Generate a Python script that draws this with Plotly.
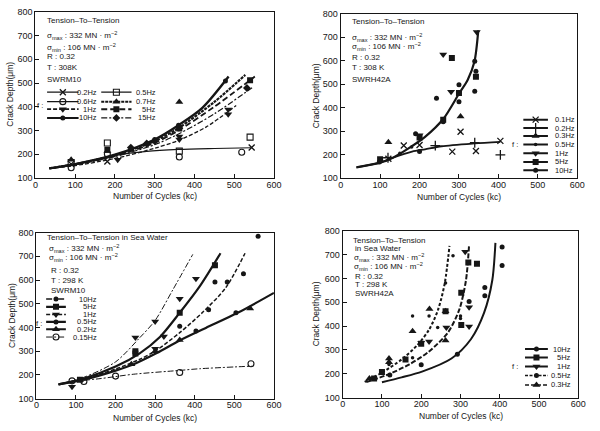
import plotly.graph_objects as go

FONT = "Arial, 'Liberation Sans', Helvetica, sans-serif"
INK = "#161616"

# ===================== DATA =====================
x_tick_vals = [0, 100, 200, 300, 400, 500, 600]
y_tick_vals = [100, 200, 300, 400, 500, 600, 700, 800]
x_title = "Number of Cycles (kc)"
y_title = "Crack Depth(μm)"

# ---- Panel 1 : SWRM10, air, 308 K ----
p1_low_x = [35, 100, 200, 280, 360, 450, 544]
p1_low_y = [140, 158, 195, 212, 220, 224, 227]
p1_f10_x = [35, 100, 200, 300, 360, 420, 486]
p1_f10_y = [140, 158, 198, 262, 322, 395, 527]
p1_f07_x = [35, 100, 200, 300, 360, 450, 528]
p1_f07_y = [140, 158, 196, 255, 310, 420, 534]
p1_f5_x = [35, 100, 200, 300, 360, 450, 552]
p1_f5_y = [140, 157, 193, 248, 300, 400, 527]
p1_f15_x = [35, 100, 200, 300, 360, 450, 545]
p1_f15_y = [140, 156, 190, 240, 285, 370, 480]
p1_f1_x = [35, 100, 200, 300, 360, 430, 505]
p1_f1_y = [140, 152, 182, 225, 258, 315, 405]

p1_m02_x = [90, 181, 544];            p1_m02_y = [158, 169, 228]
p1_m05_x = [90, 181, 362, 540];       p1_m05_y = [165, 247, 213, 272]
p1_m06_x = [90, 181, 362, 519];       p1_m06_y = [143, 201, 188, 208]
p1_m07_x = [90, 181, 362];            p1_m07_y = [176, 213, 420]
p1_m1_x = [207, 362, 362, 485, 485];  p1_m1_y = [176, 262, 275, 368, 388]
p1_m5_x = [181, 362, 540];            p1_m5_y = [219, 308, 512]
p1_m10_x = [300, 360, 478];           p1_m10_y = [262, 322, 508]
p1_m15_x = [240, 280, 300, 532];      p1_m15_y = [228, 245, 255, 479]

# ---- Panel 2 : SWRH42A, air, 308 K ----
p2_rise_x = [40, 98, 131, 172, 214, 260, 301, 322, 339, 349]
p2_rise_y = [145, 164, 185, 226, 275, 351, 462, 518, 594, 729]
p2_flat_x = [40, 98, 131, 181, 214, 256, 339, 405]
p2_flat_y = [145, 164, 185, 212, 222, 235, 247, 254]

p2_m01_x = [121, 160, 200, 283, 304, 343, 405]; p2_m01_y = [182, 238, 240, 212, 297, 215, 258]
p2_m02_x = [120, 240, 340, 405];      p2_m02_y = [186, 238, 250, 198]
p2_m03_x = [121, 304];                p2_m03_y = [252, 362]
p2_m05_x = [150, 180];                p2_m05_y = [205, 232]
p2_m1_x = [200, 260, 280, 345];       p2_m1_y = [282, 626, 468, 722]
p2_m5_x = [100, 200, 260, 282, 300, 343]; p2_m5_y = [180, 272, 348, 611, 462, 532]
p2_m10_x = [98, 190, 200, 243, 260, 300, 300, 340, 343, 340]
p2_m10_y = [168, 288, 213, 440, 340, 497, 425, 598, 555, 470]

# ---- Panel 3 : SWRM10, sea water, 298 K ----
p3_f10_x = [56, 120, 200, 260, 300, 345, 395]
p3_f10_y = [160, 190, 255, 355, 430, 560, 708]
p3_f5_x = [56, 120, 200, 260, 312, 362, 412, 465]
p3_f5_y = [160, 185, 235, 290, 360, 462, 572, 713]
p3_f1_x = [56, 120, 200, 260, 304, 362, 420, 478, 527]
p3_f1_y = [160, 182, 225, 265, 305, 378, 464, 567, 713]
p3_f05_x = [56, 120, 200, 246, 304, 362, 428, 511, 600]
p3_f05_y = [160, 180, 218, 245, 292, 345, 398, 464, 546]
p3_f015_x = [90, 164, 246, 362, 412, 544]
p3_f015_y = [172, 185, 203, 219, 226, 237]

p3_m10_x = [560, 523];                          p3_m10_y = [785, 627]
p3_m5_x = [451, 362, 250, 250, 110];            p3_m5_y = [662, 462, 300, 290, 180]
p3_m1_x = [403, 362, 300, 250, 322, 300, 90];   p3_m1_y = [605, 521, 425, 358, 362, 310, 150]
p3_m05_x = [403, 435, 504, 362, 451, 482];      p3_m05_y = [385, 475, 462, 405, 592, 592]
p3_m02_x = [540, 362, 240, 110, 300];           p3_m02_y = [480, 347, 245, 178, 300]
p3_m015_x = [542, 362, 200, 120, 90];           p3_m015_y = [247, 210, 195, 172, 175]

# ---- Panel 4 : SWRH42A, sea water, 298 K ----
p4_f03_x = [56, 100, 150, 190, 220, 243, 260, 272]
p4_f03_y = [166, 205, 260, 320, 385, 469, 580, 736]
p4_f1_x = [60, 120, 170, 218, 268, 297, 314, 322]
p4_f1_y = [165, 200, 240, 291, 373, 469, 592, 743]
p4_f10_x = [100, 150, 202, 277, 327, 360, 381, 389]
p4_f10_y = [165, 185, 209, 264, 346, 455, 592, 749]

p4_m10_x = [406, 406, 362, 362, 322, 292, 200, 120]
p4_m10_y = [732, 654, 562, 527, 503, 282, 238, 195]
p4_m5_x = [342, 320, 302, 302, 262, 200, 160, 100, 80]
p4_m5_y = [661, 667, 540, 405, 462, 326, 260, 208, 180]
p4_m1_x = [312, 322, 322, 264, 220, 200]
p4_m1_y = [712, 479, 398, 394, 335, 330]
p4_m05_x = [281, 262, 220, 242, 178, 178, 118, 300, 300]
p4_m05_y = [695, 581, 442, 394, 442, 267, 239, 442, 432]
p4_m03_x = [221, 262, 262, 178, 118, 118, 68]
p4_m03_y = [472, 462, 340, 378, 264, 248, 180]

# legend entries: label, dash, width, symbol key
p1_legend = [("0.2Hz", "solid", 1.2, "x"), ("0.5Hz", "solid", 1.2, "sq_open"),
             ("0.6Hz", "solid", 1.2, "ci_open"), ("0.7Hz", "3px,1px", 2.0, "tri_up"),
             ("1Hz", "4px,2px", 1.6, "tri_dn"), ("5Hz", "6px,3px", 2.0, "sq"),
             ("10Hz", "solid", 2.0, "dot"), ("15Hz", "6px,2px,2px,2px", 1.2, "dia")]
p2_legend = [("0.1Hz", "solid", 2.0, "x"), ("0.2Hz", "solid", 2.0, "+"),
             ("0.3Hz", "solid", 2.0, "tri_up"), ("0.5Hz", "solid", 2.0, "dot_s"),
             ("1Hz", "solid", 2.0, "tri_dn"), ("5Hz", "solid", 2.0, "sq"),
             ("10Hz", "solid", 2.0, "dot")]
p3_legend = [("10Hz", "6px,2px,2px,2px", 1.4, "dot"), ("5Hz", "solid", 2.2, "sq"),
             ("1Hz", "4px,2px", 1.5, "tri_dn"), ("0.5Hz", "solid", 2.2, "dot"),
             ("0.2Hz", "solid", 2.2, "tri_up"), ("0.15Hz", "6px,2px,2px,2px", 1.0, "ci_open")]
p4_legend = [("10Hz", "solid", 2.0, "dot"), ("5Hz", "solid", 2.0, "sq"),
             ("1Hz", "solid", 2.0, "tri_dn"), ("0.5Hz", "3px,1.5px", 1.6, "dot"),
             ("0.3Hz", "4px,2px", 1.6, "tri_up")]

p1_text = ["Tension–To–Tension", "σ<sub>max</sub> : 332 MN · m<sup>−2</sup>",
           "σ<sub>min</sub> : 106 MN · m<sup>−2</sup>", "R : 0.32", "T : 308K", "SWRM10"]
p2_text = ["Tension–To–Tension", "σ<sub>max</sub> : 332 MN · m<sup>−2</sup>",
           "σ<sub>min</sub> : 106 MN · m<sup>−2</sup>", "R : 0.32", "T : 308 K", "SWRH42A"]
p3_text = ["Tension–To–Tension in Sea Water", "σ<sub>max</sub> : 332 MN · m<sup>−2</sup>",
           "σ<sub>min</sub> : 106 MN · m<sup>−2</sup>", "R : 0.32", "T : 298 K", "SWRM10"]
p4_text = ["Tension–To–Tension", "in Sea Water", "σ<sub>max</sub> : 332 MN · m<sup>−2</sup>",
           "σ<sub>min</sub> : 106 MN · m<sup>−2</sup>", "R : 0.32", "T : 298 K", "SWRH42A"]

# ===================== STYLE / LAYOUT =====================
SYM = {
    "x": dict(symbol="x-thin", size=6, line=dict(width=1.3, color=INK)),
    "+": dict(symbol="cross-thin", size=7, line=dict(width=1.3, color=INK)),
    "sq_open": dict(symbol="square-open", size=6, line=dict(width=1.1, color=INK)),
    "ci_open": dict(symbol="circle-open", size=6, line=dict(width=1.1, color=INK)),
    "tri_up": dict(symbol="triangle-up", size=7, line=dict(width=0)),
    "tri_dn": dict(symbol="triangle-down", size=7, line=dict(width=0)),
    "sq": dict(symbol="square", size=6, line=dict(width=0)),
    "dot": dict(symbol="circle", size=5, line=dict(width=0)),
    "dot_s": dict(symbol="circle", size=3.5, line=dict(width=0)),
    "dia": dict(symbol="diamond", size=6, line=dict(width=0)),
}

panels = {
    1: dict(xd=[0.055, 0.46], yd=[0.5893, 0.9838]),
    2: dict(xd=[0.5733, 0.975], yd=[0.5893, 0.9791]),
    3: dict(xd=[0.0567, 0.46], yd=[0.065, 0.4594]),
    4: dict(xd=[0.5767, 0.9767], yd=[0.0673, 0.464]),
}

fig = go.Figure()


def ax(k):
    return ("x" if k == 1 else f"x{k}"), ("y" if k == 1 else f"y{k}")


def fit(k, x, y, dash, width):
    xa, ya = ax(k)
    fig.add_trace(go.Scatter(x=x, y=y, mode="lines", xaxis=xa, yaxis=ya,
                             line=dict(color=INK, width=width, dash=dash,
                                       shape="spline", smoothing=0.8),
                             hoverinfo="skip", showlegend=False))


def pts(k, x, y, key, name):
    xa, ya = ax(k)
    m = dict(SYM[key]); m["color"] = INK
    fig.add_trace(go.Scatter(x=x, y=y, mode="markers", xaxis=xa, yaxis=ya,
                             marker=m, name=name, showlegend=False))


# panel 1
fit(1, p1_low_x, p1_low_y, "solid", 1.2)
fit(1, p1_f10_x, p1_f10_y, "solid", 2.4)
fit(1, p1_f07_x, p1_f07_y, "3px,1px", 2.2)
fit(1, p1_f5_x, p1_f5_y, "6px,3px", 1.8)
fit(1, p1_f15_x, p1_f15_y, "6px,2px,2px,2px", 1.2)
fit(1, p1_f1_x, p1_f1_y, "4px,2px", 1.3)
pts(1, p1_m02_x, p1_m02_y, "x", "0.2Hz")
pts(1, p1_m05_x, p1_m05_y, "sq_open", "0.5Hz")
pts(1, p1_m06_x, p1_m06_y, "ci_open", "0.6Hz")
pts(1, p1_m07_x, p1_m07_y, "tri_up", "0.7Hz")
pts(1, p1_m1_x, p1_m1_y, "tri_dn", "1Hz")
pts(1, p1_m5_x, p1_m5_y, "sq", "5Hz")
pts(1, p1_m10_x, p1_m10_y, "dot", "10Hz")
pts(1, p1_m15_x, p1_m15_y, "dia", "15Hz")

# panel 2
fit(2, p2_rise_x, p2_rise_y, "solid", 2.2)
fit(2, p2_flat_x, p2_flat_y, "solid", 1.8)
pts(2, p2_m01_x, p2_m01_y, "x", "0.1Hz")
pts(2, p2_m02_x, p2_m02_y, "+", "0.2Hz")
pts(2, p2_m03_x, p2_m03_y, "tri_up", "0.3Hz")
pts(2, p2_m05_x, p2_m05_y, "dot_s", "0.5Hz")
pts(2, p2_m1_x, p2_m1_y, "tri_dn", "1Hz")
pts(2, p2_m5_x, p2_m5_y, "sq", "5Hz")
pts(2, p2_m10_x, p2_m10_y, "dot", "10Hz")

# panel 3
fit(3, p3_f10_x, p3_f10_y, "6px,2px,2px,2px", 1.0)
fit(3, p3_f5_x, p3_f5_y, "solid", 2.2)
fit(3, p3_f1_x, p3_f1_y, "4px,2px", 1.5)
fit(3, p3_f05_x, p3_f05_y, "solid", 2.2)
fit(3, p3_f015_x, p3_f015_y, "6px,2px,2px,2px", 1.0)
pts(3, p3_m10_x, p3_m10_y, "dot", "10Hz")
pts(3, p3_m5_x, p3_m5_y, "sq", "5Hz")
pts(3, p3_m1_x, p3_m1_y, "tri_dn", "1Hz")
pts(3, p3_m05_x, p3_m05_y, "dot", "0.5Hz")
pts(3, p3_m02_x, p3_m02_y, "tri_up", "0.2Hz")
pts(3, p3_m015_x, p3_m015_y, "ci_open", "0.15Hz")

# panel 4
fit(4, p4_f03_x, p4_f03_y, "3px,2px", 2.0)
fit(4, p4_f1_x, p4_f1_y, "5px,2px", 2.0)
fit(4, p4_f10_x, p4_f10_y, "solid", 2.0)
pts(4, p4_m10_x, p4_m10_y, "dot", "10Hz")
pts(4, p4_m5_x, p4_m5_y, "sq", "5Hz")
pts(4, p4_m1_x, p4_m1_y, "tri_dn", "1Hz")
pts(4, p4_m05_x, p4_m05_y, "dot_s", "0.5Hz")
pts(4, p4_m03_x, p4_m03_y, "tri_up", "0.3Hz")

# ---------- legends (drawn on overlay axes spanning [0,1] of each panel) ----------
LEG_FONT = 7.5
legend_specs = {
    1: dict(entries=p1_legend, ncol=2, rows=[0.516, 0.459, 0.414, 0.361],
            x0=[0.049, 0.276], x1=[0.181, 0.403], tx=[0.265, 0.514], anchor="right",
            f=(0.040, 0.437)),
    2: dict(entries=p2_legend, ncol=1, rows=[0.355, 0.304, 0.256, 0.204, 0.151, 0.097, 0.046],
            x0=[0.772], x1=[0.876], tx=[0.896], anchor="left", f=(0.759, 0.204)),
    3: dict(entries=p3_legend, ncol=1, rows=[0.600, 0.553, 0.506, 0.462, 0.418, 0.371],
            x0=[0.041], x1=[0.124], tx=[0.264], anchor="right", f=(0.030, 0.455)),
    4: dict(entries=p4_legend, ncol=1, rows=[0.291, 0.240, 0.187, 0.133, 0.076],
            x0=[0.774], x1=[0.871], tx=[0.978], anchor="right", f=(0.753, 0.187)),
}

annotations = []
for k, spec in legend_specs.items():
    lx, ly = f"x{k + 4}", f"y{k + 4}"
    xr, yr = ("x domain" if k == 1 else f"x{k} domain"), ("y domain" if k == 1 else f"y{k} domain")
    for i, (label, dash, width, key) in enumerate(spec["entries"]):
        col, row = i % spec["ncol"], i // spec["ncol"]
        yy = spec["rows"][row]
        a, b = spec["x0"][col], spec["x1"][col]
        fig.add_trace(go.Scatter(x=[a, b], y=[yy, yy], mode="lines", xaxis=lx, yaxis=ly,
                                 line=dict(color=INK, width=width, dash=dash),
                                 hoverinfo="skip", showlegend=False))
        m = dict(SYM[key]); m["color"] = INK
        fig.add_trace(go.Scatter(x=[(a + b) / 2], y=[yy], mode="markers", xaxis=lx, yaxis=ly,
                                 marker=m, hoverinfo="skip", showlegend=False))
        annotations.append(dict(text=label, x=spec["tx"][col], y=yy, xref=xr, yref=yr,
                                xanchor=spec["anchor"], yanchor="middle", showarrow=False,
                                font=dict(size=LEG_FONT, color=INK, family=FONT)))
    fx, fy = spec["f"]
    annotations.append(dict(text="f :", x=fx, y=fy, xref=xr, yref=yr, xanchor="right",
                            yanchor="middle", showarrow=False,
                            font=dict(size=LEG_FONT, color=INK, family=FONT)))

# ---------- condition texts ----------
TXT_FONT = 8.0
text_specs = {
    1: (p1_text, [0.041] * 6, [0.947, 0.859, 0.788, 0.729, 0.665, 0.594]),
    2: (p2_text, [0.041] * 6, [0.952, 0.857, 0.798, 0.732, 0.673, 0.601]),
    3: (p3_text, [0.038, 0.045, 0.045, 0.052, 0.052, 0.052], [0.971, 0.906, 0.847, 0.771, 0.712, 0.653]),
    4: (p4_text, [0.035, 0.042, 0.038, 0.038, 0.045, 0.045, 0.045],
        [0.942, 0.895, 0.842, 0.784, 0.725, 0.678, 0.626]),
}
for k, (lines, xs, ys) in text_specs.items():
    xr, yr = ("x domain" if k == 1 else f"x{k} domain"), ("y domain" if k == 1 else f"y{k} domain")
    for t, xx, yy in zip(lines, xs, ys):
        annotations.append(dict(text=t, x=xx, y=yy, xref=xr, yref=yr, xanchor="left",
                                yanchor="middle", showarrow=False,
                                font=dict(size=TXT_FONT, color=INK, family=FONT)))

# ---------- axis titles ----------
xt_pos = {1: (0.2575, 0.547), 2: (0.774, 0.545), 3: (0.258, 0.020), 4: (0.777, 0.023)}
yt_pos = {1: (0.012, 0.787), 2: (0.532, 0.784), 3: (0.014, 0.262), 4: (0.532, 0.266)}
for k in panels:
    annotations.append(dict(text=x_title, x=xt_pos[k][0], y=xt_pos[k][1], xref="paper", yref="paper",
                            xanchor="center", yanchor="middle", showarrow=False,
                            font=dict(size=8.5, color=INK, family=FONT)))
    annotations.append(dict(text=y_title, x=yt_pos[k][0], y=yt_pos[k][1], xref="paper", yref="paper",
                            xanchor="center", yanchor="middle", showarrow=False, textangle=-90,
                            font=dict(size=8.5, color=INK, family=FONT)))

layout = dict(width=600, height=431, margin=dict(l=0, r=0, t=0, b=0),
              paper_bgcolor="white", plot_bgcolor="white", showlegend=False,
              annotations=annotations, font=dict(family=FONT, color=INK, size=9))

for k, p in panels.items():
    sx = "" if k == 1 else str(k)
    common = dict(showline=True, linecolor=INK, linewidth=1, mirror=True, ticks="inside",
                  ticklen=4, tickwidth=1, tickcolor=INK, showgrid=False, zeroline=False,
                  tickfont=dict(size=9, color=INK, family=FONT), fixedrange=True)
    layout[f"xaxis{sx}"] = dict(domain=p["xd"], anchor=f"y{sx}", range=[0, 600],
                                tickvals=x_tick_vals, ticklabelstandoff=-2, **common)
    layout[f"yaxis{sx}"] = dict(domain=p["yd"], anchor=f"x{sx}", range=[100, 800],
                                tickvals=y_tick_vals, **common)
    layout[f"xaxis{k + 4}"] = dict(overlaying=f"x{sx}", anchor=f"y{k + 4}", range=[0, 1],
                                   visible=False, fixedrange=True)
    layout[f"yaxis{k + 4}"] = dict(overlaying=f"y{sx}", anchor=f"x{k + 4}", range=[0, 1],
                                   visible=False, fixedrange=True)

fig.update_layout(**layout)
fig.write_html("out.html", config={"displayModeBar": False, "staticPlot": True},
               post_script="document.body.style.margin='0';document.body.style.overflow='hidden';")
